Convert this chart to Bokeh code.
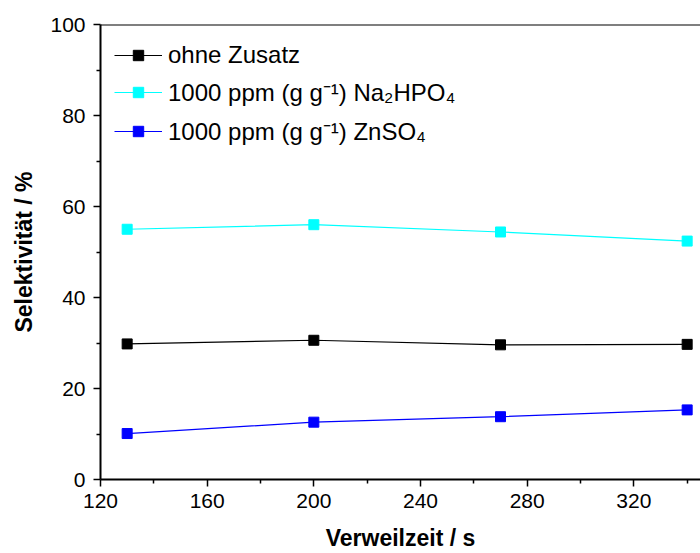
from bokeh.plotting import figure
from bokeh.models import Range1d, Span, Legend, LegendItem, FixedTicker
from bokeh.embed import file_html
from bokeh.resources import INLINE

# Data
zeit = [130, 200, 270, 340]
ohne_zusatz = [29.8, 30.6, 29.6, 29.7]
na2hpo4 = [55.0, 56.0, 54.4, 52.4]
znso4 = [10.1, 12.6, 13.8, 15.3]
labels = ["ohne Zusatz", "1000 ppm (g g⁻¹) Na₂HPO₄", "1000 ppm (g g⁻¹) ZnSO₄"]
colors = ["#000000", "#00FFFF", "#0000FF"]
x_ticks = [120, 160, 200, 240, 280, 320]
y_ticks = [0, 20, 40, 60, 80, 100]

FONT = "Liberation Sans"

p = figure(width=700, height=553, output_backend="svg", toolbar_location=None,
           x_range=Range1d(120, 345), y_range=Range1d(0, 100),
           min_border_left=100, min_border_top=24, min_border_right=0, min_border_bottom=73)
p.outline_line_color = None
p.xgrid.visible = False
p.ygrid.visible = False
p.background_fill_color = "white"
p.border_fill_color = "white"

items = []
for ys, c, lab in zip([ohne_zusatz, na2hpo4, znso4], colors, labels):
    r1 = p.line(zeit, ys, line_color=c, line_width=1.2)
    r2 = p.scatter(zeit, ys, marker="square", size=10, fill_color=c, line_color=c)
    items.append(LegendItem(label=lab, renderers=[r1, r2]))

p.add_layout(Span(location=100, dimension="width", line_color="black", line_width=2))

for ax in (p.xaxis[0], p.yaxis[0]):
    ax.axis_line_width = 2
    ax.axis_line_color = "black"
    ax.major_tick_line_width = 1.5
    ax.minor_tick_line_width = 1.5
    ax.major_tick_in = 0
    ax.major_tick_out = 7
    ax.minor_tick_in = 0
    ax.minor_tick_out = 4
    ax.major_label_text_font = FONT
    ax.major_label_text_font_size = "21px"
    ax.major_label_text_color = "black"
    ax.axis_label_text_font = FONT
    ax.axis_label_text_font_style = "bold"
    ax.axis_label_text_font_size = "23px"
    ax.axis_label_text_color = "black"

p.xaxis[0].ticker = FixedTicker(ticks=x_ticks, minor_ticks=list(range(140, 345, 40)))
p.yaxis[0].ticker = FixedTicker(ticks=y_ticks, minor_ticks=list(range(10, 100, 20)))
p.xaxis[0].axis_label = "Verweilzeit / s"
p.yaxis[0].axis_label = "Selektivität / %"
p.xaxis[0].major_label_standoff = 7
p.xaxis[0].axis_label_standoff = 14
p.yaxis[0].major_label_standoff = 8
p.yaxis[0].axis_label_standoff = 10

legend = Legend(items=items, location=(14, 332), orientation="vertical")
legend.border_line_color = None
legend.background_fill_alpha = 0
legend.label_text_font = FONT
legend.label_text_font_size = "24px"
legend.label_text_color = "black"
legend.glyph_width = 48
legend.glyph_height = 26
legend.label_height = 26
legend.spacing = 6
legend.padding = 4
legend.margin = 0
legend.label_standoff = 6
p.add_layout(legend)

open("out.html", "w").write(file_html(p, INLINE))
